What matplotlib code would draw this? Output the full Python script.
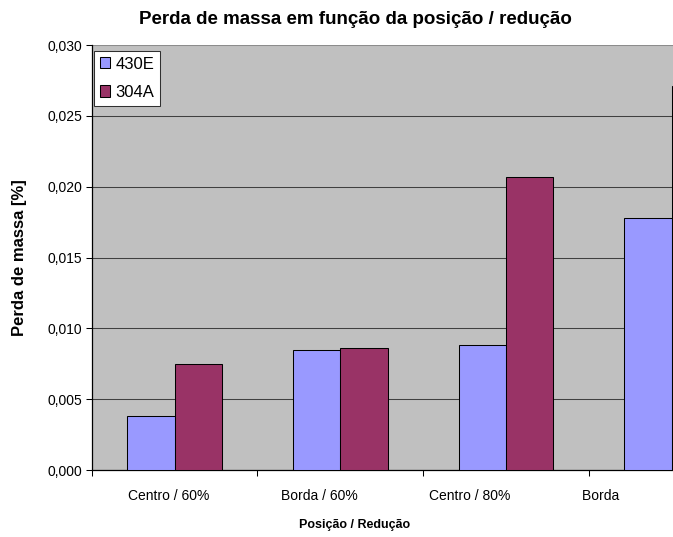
import matplotlib
matplotlib.use("Agg")
import matplotlib.pyplot as plt
import matplotlib.transforms as mtransforms
import numpy as np

# ---- data ----
categories = ["Centro / 60%", "Borda / 60%", "Centro / 80%", "Borda / 80%"]
series_names = ["430E", "304A"]
values_430E = [0.0038, 0.0085, 0.0088, 0.0178]
values_304A = [0.0075, 0.0086, 0.0207, 0.0271]
yticks = [0.000, 0.005, 0.010, 0.015, 0.020, 0.025, 0.030]
ytick_labels = ["0,000", "0,005", "0,010", "0,015", "0,020", "0,025", "0,030"]

title = "Perda de massa em função da posição / redução"
xlabel = "Posição / Redução"
ylabel = "Perda de massa [%]"

# ---- style ----
plt.rcParams['font.family'] = ['Liberation Sans', 'DejaVu Sans']
W, H = 673, 537
fig = plt.figure(figsize=(W / 100, H / 100), dpi=100)
fig.patch.set_facecolor('white')

ax_left, ax_right = 91.7, 91.7 + 4 * 165.7
ax_top, ax_bottom = 45.2, 470.0
ax = fig.add_axes([ax_left / W, 1 - ax_bottom / H,
                   (ax_right - ax_left) / W, (ax_bottom - ax_top) / H])
ax.set_facecolor('#C0C0C0')

n = len(categories)
centers = np.arange(n) + 0.5
bw = 1 / 3.5
c1, c2 = '#9999FF', '#993366'
ax.bar(centers - bw / 2, values_430E, width=bw, color=c1, edgecolor='black',
       linewidth=0.75, label=series_names[0], zorder=3)
ax.bar(centers + bw / 2, values_304A, width=bw, color=c2, edgecolor='black',
       linewidth=0.75, label=series_names[1], zorder=3)

ax.set_xlim(0, n)
ax.set_ylim(0, 0.030)
ax.set_yticks(yticks)
ax.set_yticklabels(ytick_labels, fontsize=10)
ax.yaxis.grid(True, color='#404040', linewidth=0.75, zorder=1)
ax.set_axisbelow(True)
ax.get_ygridlines()[-1].set_color('#8c8c8c')

# category boundary ticks (unlabeled)
ax.set_xticks(np.arange(n + 1))
ax.set_xticklabels([])
ax.tick_params(axis='x', which='major', length=4, width=0.75, color='black')
ax.tick_params(axis='y', which='major', length=4, width=0.75, color='black', pad=3)

# category labels (as in the reference, slightly left of centre, last one clipped)
label_pos = [c - (0.036 + 0.091 * i) for i, c in enumerate(centers)]
trans = mtransforms.blended_transform_factory(ax.transData, ax.transAxes)
clip = mtransforms.TransformedBbox(mtransforms.Bbox([[0, 0], [622 / W, 1]]),
                                   fig.transFigure)
for xp, cat in zip(label_pos, categories):
    t = ax.text(xp, -(496.5 - ax_bottom) / (ax_bottom - ax_top), cat,
                transform=trans, ha='center', va='center', fontsize=10)
    t.set_clip_box(clip)
    t.set_clip_on(True)

for s in ['top', 'right']:
    ax.spines[s].set_visible(False)
for s in ['left', 'bottom']:
    ax.spines[s].set_color('black')
    ax.spines[s].set_linewidth(0.9)

fig.text(355 / W, 1 - 20 / H, title, ha='center', va='center',
         fontsize=13.5, fontweight='bold')
fig.text(355 / W, 1 - 525 / H, xlabel, ha='center', va='center',
         fontsize=9, fontweight='bold')
fig.text(20 / W, 1 - 257.5 / H, ylabel, ha='center', va='center',
         rotation=90, fontsize=12, fontweight='bold')

leg = ax.legend(loc='upper left', bbox_to_anchor=(94.3 / W, 1 - 50.7 / H),
                bbox_transform=fig.transFigure, borderaxespad=0,
                fontsize=12, frameon=True, fancybox=False,
                handlelength=0.6, handleheight=0.66, handletextpad=0.3,
                borderpad=0.35, labelspacing=0.8)
leg.get_frame().set_edgecolor('#303030')
leg.get_frame().set_linewidth(0.75)
leg.get_frame().set_facecolor('white')
leg.get_frame().set_alpha(1)

fig.savefig('out.png', dpi=100)
